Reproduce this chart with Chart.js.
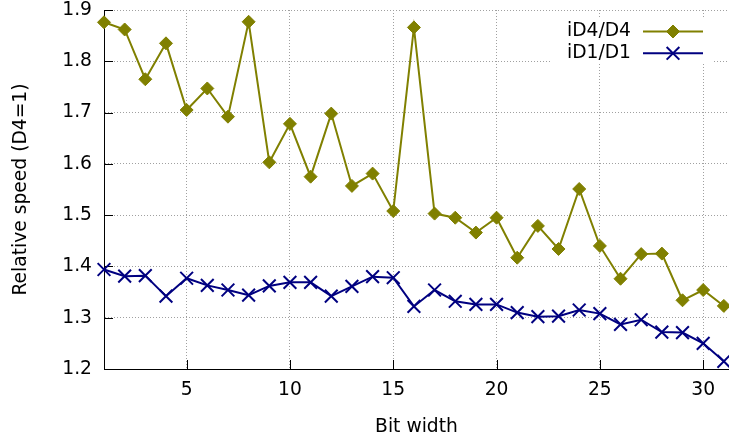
<!DOCTYPE html>
<html>
<head>
<meta charset="utf-8">
<script src="https://cdn.jsdelivr.net/npm/chart.js@4.4.1/dist/chart.umd.min.js"></script>
<style>
  html, body { margin: 0; padding: 0; background: #fff; }
  #wrap { width: 729px; height: 440px; position: relative; }
</style>
</head>
<body>
<div id="wrap"><canvas id="chart"></canvas></div>
<script>
(function () {
  "use strict";

  var BIT_WIDTH = [1, 2, 3, 4, 5, 6, 7, 8, 9, 10, 11, 12, 13, 14, 15, 16,
    17, 18, 19, 20, 21, 22, 23, 24, 25, 26, 27, 28, 29, 30, 31];
  var ID4_D4 = [1.876, 1.862, 1.765, 1.835, 1.705, 1.747, 1.692, 1.877, 1.603,
    1.678, 1.575, 1.698, 1.557, 1.581, 1.508, 1.866, 1.503, 1.495, 1.466,
    1.495, 1.417, 1.479, 1.434, 1.551, 1.440, 1.376, 1.424, 1.425, 1.334,
    1.354, 1.323];
  var ID1_D1 = [1.394, 1.381, 1.382, 1.342, 1.377, 1.363, 1.354, 1.344, 1.362,
    1.369, 1.369, 1.342, 1.361, 1.380, 1.378, 1.322, 1.354, 1.332, 1.326,
    1.326, 1.310, 1.302, 1.303, 1.315, 1.308, 1.287, 1.296, 1.272, 1.271,
    1.250, 1.215];
  var X_TICKS = [5, 10, 15, 20, 25, 30];
  var Y_TICKS = [1.2, 1.3, 1.4, 1.5, 1.6, 1.7, 1.8, 1.9];
  var SERIES_NAMES = ["iD4/D4", "iD1/D1"];
  var X_TITLE = "Bit width";
  var Y_TITLE = "Relative speed (D4=1)";

  var FONT = "DejaVu Sans";
  var FONT_SIZE = 18.7;
  var OLIVE = "#808000";
  var NAVY = "#000080";

  function pts(values) {
    return BIT_WIDTH.map(function (b, i) {
      return { x: b, y: values[i] };
    });
  }

  // gnuplot-style inward tick marks
  var tickMarks = {
    id: "tickMarks",
    beforeDatasetsDraw: function (chart) {
      var ctx = chart.ctx;
      var a = chart.chartArea;
      var xs = chart.scales.x;
      var ys = chart.scales.y;
      ctx.save();
      ctx.strokeStyle = "#000";
      ctx.lineWidth = 1;
      ctx.beginPath();
      X_TICKS.forEach(function (v) {
        var px = Math.round(xs.getPixelForValue(v)) + 0.5;
        ctx.moveTo(px, a.bottom);
        ctx.lineTo(px, a.bottom - 9);
      });
      Y_TICKS.forEach(function (v) {
        var py = Math.round(ys.getPixelForValue(v)) + 0.5;
        ctx.moveTo(a.left, py);
        ctx.lineTo(a.left + 9, py);
      });
      ctx.stroke();
      ctx.restore();
    }
  };

  // key in the top right, label first then line sample
  var key = {
    id: "key",
    beforeDatasetsDraw: function (chart) {
      var ctx = chart.ctx;
      ctx.save();
      ctx.fillStyle = "#fff";
      ctx.fillRect(551, 18, 162, 46);
      chart.data.datasets.forEach(function (ds, i) {
        var y = 31.5 + i * 21.8;
        ctx.fillStyle = "#000";
        ctx.font = FONT_SIZE + "px '" + FONT + "'";
        ctx.textAlign = "right";
        ctx.textBaseline = "middle";
        ctx.fillText(ds.label, 631, y);
        ctx.strokeStyle = ds.borderColor;
        ctx.lineWidth = ds.borderWidth;
        ctx.beginPath();
        ctx.moveTo(643, y);
        ctx.lineTo(703, y);
        ctx.stroke();
        ctx.fillStyle = ds.pointBackgroundColor;
        ctx.strokeStyle = ds.pointBorderColor;
        ctx.lineWidth = ds.pointBorderWidth;
        Chart.helpers.drawPoint(ctx, {
          pointStyle: ds.pointStyle,
          radius: ds.pointRadius,
          borderWidth: ds.pointBorderWidth,
          rotation: 0
        }, 673, y);
      });
      ctx.restore();
    }
  };

  new Chart(document.getElementById("chart"), {
    type: "line",
    data: {
      datasets: [
        {
          label: SERIES_NAMES[0],
          data: pts(ID4_D4),
          borderColor: OLIVE,
          borderWidth: 2,
          pointStyle: "rectRot",
          pointRadius: 6.5,
          pointBackgroundColor: OLIVE,
          pointBorderColor: OLIVE,
          pointBorderWidth: 1,
          tension: 0,
          clip: false
        },
        {
          label: SERIES_NAMES[1],
          data: pts(ID1_D1),
          borderColor: NAVY,
          borderWidth: 2,
          pointStyle: "crossRot",
          pointRadius: 9,
          pointBackgroundColor: NAVY,
          pointBorderColor: NAVY,
          pointBorderWidth: 2,
          tension: 0,
          clip: false
        }
      ]
    },
    options: {
      responsive: true,
      maintainAspectRatio: false,
      animation: false,
      layout: { autoPadding: false, padding: { top: 10, right: 0, left: 0, bottom: 0 } },
      plugins: {
        legend: { display: false },
        tooltip: { enabled: false }
      },
      scales: {
        x: {
          type: "linear",
          min: 1,
          max: 31.25,
          afterFit: function (s) {
            s.height = 71;
            s.paddingLeft = 0;
            s.paddingRight = 0;
          },
          afterBuildTicks: function (s) {
            s.ticks = X_TICKS.map(function (v) { return { value: v }; });
          },
          ticks: {
            color: "#000",
            padding: 10,
            maxRotation: 0,
            font: { family: FONT, size: FONT_SIZE }
          },
          grid: { color: "#a0a0a0", lineWidth: 1, drawTicks: false },
          border: { display: true, color: "#000", width: 1, dash: [1, 2] },
          title: {
            display: true,
            text: X_TITLE,
            color: "#000",
            font: { family: FONT, size: FONT_SIZE },
            padding: { top: 0, bottom: 2 }
          }
        },
        y: {
          min: 1.2,
          max: 1.9,
          afterFit: function (s) {
            s.width = 104;
            s.paddingTop = 0;
            s.paddingBottom = 0;
          },
          afterBuildTicks: function (s) {
            s.ticks = Y_TICKS.map(function (v) { return { value: v }; });
          },
          ticks: {
            color: "#000",
            padding: 12,
            font: { family: FONT, size: FONT_SIZE },
            callback: function (v) { return v.toFixed(1); }
          },
          grid: { color: "#a0a0a0", lineWidth: 1, drawTicks: false },
          border: { display: true, color: "#000", width: 1, dash: [1, 2] },
          title: {
            display: true,
            text: Y_TITLE,
            color: "#000",
            font: { family: FONT, size: FONT_SIZE },
            padding: { top: 10, bottom: 0 }
          }
        }
      }
    },
    plugins: [tickMarks, key]
  });
})();
</script>
</body>
</html>
